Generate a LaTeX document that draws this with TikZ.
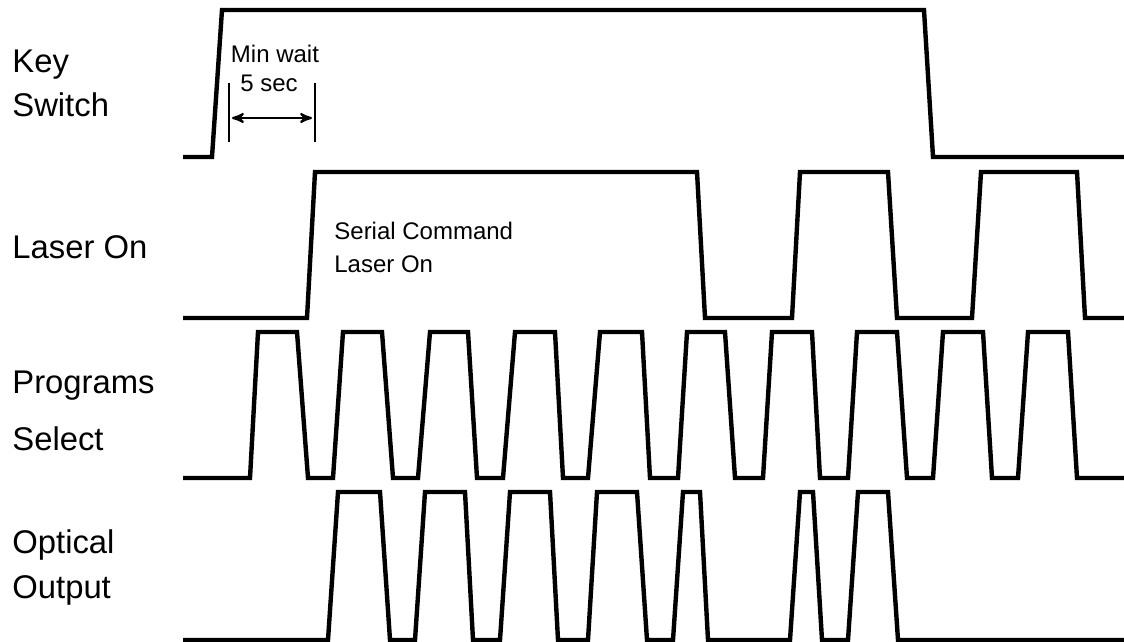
\documentclass[tikz,border=0pt]{standalone}
\usepackage{fontspec}
\setmainfont{Liberation Sans}
\usetikzlibrary{arrows}

\begin{document}
\begin{tikzpicture}[x=0.5pt, y=-0.5pt, >=stealth']
    \tikzstyle{signal}  = [line width=2.2pt, line join=miter]
    \tikzstyle{lbl}     = [anchor=base west, inner sep=0pt, font=\fontsize{16.4pt}{20pt}\selectfont]
    \tikzstyle{note}    = [inner sep=0pt, font=\fontsize{12pt}{14pt}\selectfont]
    \tikzstyle{marker}  = [line width=1pt]
    \tikzstyle{span}    = [line width=1.1pt, <->]

    \useasboundingbox (0,0) rectangle (1124,642);

    % signal names
    \node [lbl] (keylbl)    at (12,73)  {Key};
    \node [lbl] (switchlbl) at (12,117) {Switch};
    \node [lbl] (laserlbl)  at (12,258) {Laser On};
    \node [lbl] (proglbl)   at (12,393) {Programs};
    \node [lbl] (sellbl)    at (12,450) {Select};
    \node [lbl] (optlbl)    at (12,553) {Optical};
    \node [lbl] (outlbl)    at (12,598) {Output};

    % key switch
    \draw [signal] (183,157) -- (212,157) -- (222,10) -- (924,10) -- (933,157) -- (1124,157);

    % min wait
    \coordinate (waitA) at (229,83);
    \coordinate (waitB) at (315,83);
    \draw [marker] (waitA) -- ++(0,59);
    \draw [marker] (waitB) -- ++(0,59);
    \draw [span] ([shift={(3,35)}]waitA) -- ([shift={(-3,35)}]waitB);
    \node [note, anchor=base] (waitlbl) at (275,63) {Min wait};
    \node [note, anchor=base] (seclbl)  at (269,92) {5 sec};

    % laser on
    \draw [signal] (183,318) -- (307,318) -- (315,172) -- (697,172) -- (705,318)
        -- (792,318) -- (800,172) -- (888,172) -- (897,318)
        -- (972,318) -- (981,172) -- (1077,172) -- (1085,318) -- (1124,318);
    \node [note, anchor=base west] (serlbl) at (334,239) {Serial Command};
    \node [note, anchor=base west] (onlbl)  at (334,272) {Laser On};

    % programs select
    \draw [signal] (183,478)
        foreach \a/\b/\c/\d in {250/258/297/308, 333/343/382/393, 418/430/468/477,
                                503/515/555/563, 588/600/642/650, 678/687/725/735,
                                763/772/812/820, 848/857/897/907, 933/943/983/992,
                                1018/1028/1068/1077}
        { -- (\a,478) -- (\b,332) -- (\c,332) -- (\d,478) }
        -- (1124,478);

    % optical output
    \draw [signal] (183,640)
        foreach \a/\b/\c/\d in {328/338/380/390, 415/425/465/473, 500/510/550/558,
                                588/597/637/647, 673/683/700/708, 790/800/813/822,
                                848/858/888/898}
        { -- (\a,640) -- (\b,492) -- (\c,492) -- (\d,640) }
        -- (1124,640);
\end{tikzpicture}
\end{document}
